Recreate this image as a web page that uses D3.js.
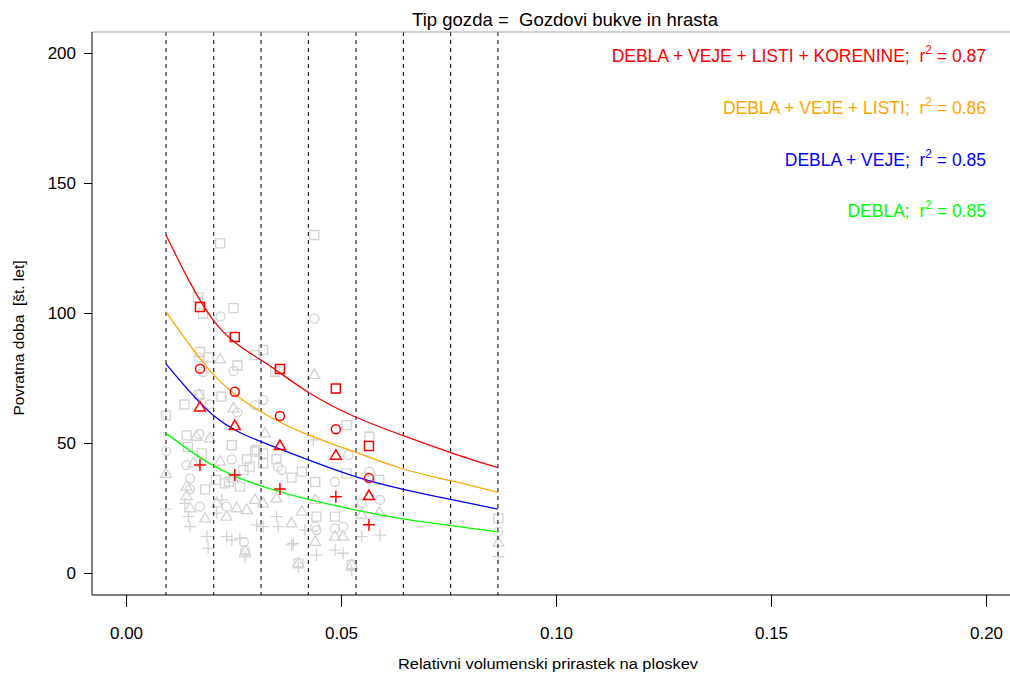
<!DOCTYPE html>
<html>
<head>
<meta charset="utf-8">
<script src="https://cdn.jsdelivr.net/npm/d3@7"></script>
<style>
  body { margin: 0; background: #fff; }
  text { font-family: 'Liberation Sans', Arial, sans-serif; white-space: pre; }
</style>
</head>
<body>
<svg id="chart" width="1010" height="673"></svg>
<script>
// class boundaries (dashed lines)
const breaks = [0.0093, 0.0204, 0.0314, 0.0424, 0.0535, 0.0645, 0.0755, 0.0865]

// fitted curves, read at the class boundaries
const fitTotal = [130.0, 97.0, 81.9, 69.5, 59.9, 52.8, 46.3, 40.5]
const fitLeaves = [100.5, 76.2, 62.0, 53.1, 46.4, 40.0, 35.5, 31.0]
const fitBranches = [80.4, 60.5, 50.5, 43.5, 37.0, 32.2, 28.3, 24.6]
const fitStems = [53.7, 41.2, 33.5, 28.3, 24.2, 20.8, 18.2, 15.8]

// class means (red symbols)
const meanX = [0.0172, 0.0253, 0.0358, 0.0488, 0.0565]
const meanTotal = [102.3, 90.8, 78.5, 71.0, 48.8]
const meanLeaves = [78.6, 69.7, 60.4, 55.3, 36.5]
const meanBranches = [63.7, 56.5, 48.8, 45.1, 29.6]
const meanStems = [41.5, 37.7, 32.3, 29.3, 18.6]

// individual plots (grey symbols), [x, years]
const plotsTotal = [
  [0.0219, 126.8], [0.0438, 130.0], [0.0168, 106.0], [0.0179, 99.8], [0.0250, 101.9],
  [0.0319, 85.8], [0.0300, 83.8], [0.0172, 85.0], [0.0192, 82.9], [0.0259, 79.8],
  [0.0347, 77.4], [0.0222, 67.8], [0.0136, 64.8], [0.0170, 68.5], [0.0093, 60.6],
  [0.0141, 52.9], [0.0144, 48.5], [0.0176, 46.0], [0.0246, 49.2], [0.0281, 43.7],
  [0.0273, 39.6], [0.0240, 35.1], [0.0209, 35.8], [0.0184, 32.2], [0.0288, 40.9],
  [0.0319, 46.0], [0.0300, 46.7], [0.0350, 43.8], [0.0409, 39.0], [0.0440, 35.0],
  [0.0385, 36.7], [0.0230, 34.5], [0.0265, 33.2], [0.0443, 21.7], [0.0401, 3.7],
  [0.0513, 56.9], [0.0486, 21.7], [0.0513, 38.3], [0.0319, 42.2], [0.0304, 47.3],
  [0.0525, 3.1], [0.0566, 52.4], [0.0589, 35.8], [0.0866, 21.0]
]
const plotsLeaves = [
  [0.0220, 98.7], [0.0438, 97.8], [0.0169, 82.9], [0.0179, 77.3], [0.0250, 77.7],
  [0.0319, 66.5], [0.0194, 64.9], [0.0259, 61.7], [0.0093, 46.9], [0.0170, 53.5],
  [0.0141, 41.5], [0.0246, 43.7], [0.0149, 32.3], [0.0172, 25.5], [0.0277, 8.8],
  [0.0300, 64.6], [0.0362, 39.6], [0.0353, 40.9], [0.0149, 36.4], [0.0234, 25.5],
  [0.0274, 12.0], [0.0443, 16.5], [0.0517, 45.4], [0.0486, 35.1], [0.0440, 17.8],
  [0.0486, 17.2], [0.0505, 17.8], [0.0566, 39.0], [0.0591, 28.1], [0.0548, 26.8],
  [0.0866, 15.9]
]
const plotsBranches = [
  [0.0219, 82.2], [0.0438, 76.2], [0.0170, 68.5], [0.0250, 63.3], [0.0093, 38.1],
  [0.0164, 52.4], [0.0195, 51.8], [0.0157, 42.2], [0.0219, 42.8], [0.0141, 29.6],
  [0.0149, 24.9], [0.0184, 21.0], [0.0234, 21.7], [0.0257, 24.9], [0.0277, 8.2],
  [0.0141, 33.2], [0.0211, 26.8], [0.0248, 36.4], [0.0281, 24.2], [0.0300, 28.1],
  [0.0319, 26.8], [0.0385, 19.1], [0.0409, 23.6], [0.0401, 3.7], [0.0323, 53.7],
  [0.0440, 28.1], [0.0440, 12.0], [0.0486, 14.0], [0.0505, 14.0], [0.0548, 22.3],
  [0.0350, 28.7], [0.0525, 3.1], [0.0589, 23.2], [0.0866, 11.7]
]
const plotsStems = [
  [0.0093, 24.6], [0.0145, 21.7], [0.0149, 17.8], [0.0188, 14.0], [0.0191, 9.5],
  [0.0223, 28.1], [0.0234, 14.0], [0.0265, 13.3], [0.0277, 6.2], [0.0304, 18.5],
  [0.0137, 26.8], [0.0211, 23.0], [0.0246, 12.7], [0.0319, 17.8], [0.0350, 21.7],
  [0.0354, 17.8], [0.0389, 11.4], [0.0416, 16.5], [0.0443, 6.9], [0.0436, 51.2],
  [0.0385, 10.8], [0.0486, 8.8], [0.0505, 7.6], [0.0548, 14.0], [0.0525, 1.0],
  [0.0401, 2.4], [0.0591, 14.6], [0.0866, 6.3]
]

const xTicks = [0, 0.05, 0.1, 0.15, 0.2]
const yTicks = [0, 50, 100, 150, 200]

const legendLabels = ['DEBLA + VEJE + LISTI + KORENINE;', 'DEBLA + VEJE + LISTI;', 'DEBLA + VEJE;', 'DEBLA;']
const legendR2 = ['0.87', '0.86', '0.85', '0.85']
const seriesColors = ['#ff0000', '#ffa500', '#0000ff', '#00ff00']

const box = { left: 92, right: 1010, top: 32, bottom: 595 }

const x = d3.scaleLinear().domain([0, 0.2]).range([126, 986])
const y = d3.scaleLinear().domain([0, 200]).range([573, 53])

const svg = d3.select('#chart')

// symbol paths in pixel space around (cx, cy)
const shapes = {
  square: (cx, cy) => `M${cx - 4.5},${cy - 4.5}h9v9h-9Z`,
  circle: (cx, cy) => `M${cx - 4.5},${cy}a4.5,4.5 0 1,0 9,0a4.5,4.5 0 1,0 -9,0`,
  triangle: (cx, cy) => `M${cx},${cy - 6}L${cx + 5.5},${cy + 3.5}L${cx - 5.5},${cy + 3.5}Z`,
  plus: (cx, cy) => `M${cx - 6},${cy}h12M${cx},${cy - 6}v12`
}

function drawPoints (data, shape, color, width, cls) {
  svg.append('g')
    .attr('class', cls)
    .selectAll('path')
    .data(data)
    .enter()
    .append('path')
      .attr('d', d => shapes[shape](x(d[0]), y(d[1])))
      .attr('fill', 'none')
      .attr('stroke', color)
      .attr('stroke-width', width)
}

// grey plots
const grey = '#d3d3d3'
drawPoints(plotsTotal, 'square', grey, 1.3, 'plots-total')
drawPoints(plotsLeaves, 'circle', grey, 1.3, 'plots-leaves')
drawPoints(plotsBranches, 'triangle', grey, 1.3, 'plots-branches')
drawPoints(plotsStems, 'plus', grey, 1.3, 'plots-stems')

// dashed class lines
svg.append('g')
  .selectAll('line')
  .data(breaks)
  .enter()
  .append('line')
    .attr('x1', d => x(d))
    .attr('x2', d => x(d))
    .attr('y1', box.top)
    .attr('y2', box.bottom)
    .attr('stroke', '#000')
    .attr('stroke-width', 1)
    .attr('stroke-dasharray', '4,4')

// fitted curves
const line = d3.line()
  .x((d, i) => x(breaks[i]))
  .y(d => y(d))
  .curve(d3.curveNatural)

const fits = [fitTotal, fitLeaves, fitBranches, fitStems]
svg.append('g')
  .selectAll('path')
  .data(fits)
  .enter()
  .append('path')
    .attr('d', line)
    .attr('fill', 'none')
    .attr('stroke', (d, i) => seriesColors[i])
    .attr('stroke-width', 1.3)

// class means
const zipMeans = vals => vals.map((v, i) => [meanX[i], v])
drawPoints(zipMeans(meanTotal), 'square', '#ff0000', 1.5, 'mean-total')
drawPoints(zipMeans(meanLeaves), 'circle', '#ff0000', 1.5, 'mean-leaves')
drawPoints(zipMeans(meanBranches), 'triangle', '#ff0000', 1.5, 'mean-branches')
drawPoints(zipMeans(meanStems), 'plus', '#ff0000', 1.5, 'mean-stems')

// frame
svg.append('line')
  .attr('x1', box.left).attr('x2', box.right)
  .attr('y1', box.top).attr('y2', box.top)
  .attr('stroke', '#a0a0a0')
svg.append('line')
  .attr('x1', box.left).attr('x2', box.left)
  .attr('y1', box.top).attr('y2', box.bottom)
  .attr('stroke', '#000')
svg.append('line')
  .attr('x1', box.left).attr('x2', box.right)
  .attr('y1', box.bottom).attr('y2', box.bottom)
  .attr('stroke', '#000')

// axes
const xAxis = d3.axisBottom(x)
  .tickValues(xTicks)
  .tickFormat(d3.format('.2f'))
  .tickSize(12)
  .tickPadding(20)
const yAxis = d3.axisLeft(y)
  .tickValues(yTicks)
  .tickFormat(d3.format('d'))
  .tickSize(8)
  .tickPadding(8)

const gx = svg.append('g')
  .attr('transform', `translate(0, ${box.bottom})`)
  .call(xAxis)
const gy = svg.append('g')
  .attr('transform', `translate(${box.left}, 0)`)
  .call(yAxis)

for (const g of [gx, gy]) {
  g.select('.domain').remove()
  g.selectAll('text')
    .attr('font-size', 17)
    .attr('font-family', "'Liberation Sans', Arial, sans-serif")
    .attr('fill', '#000')
  g.selectAll('line').attr('stroke', '#000')
}

// titles
svg.append('text')
  .attr('x', 565)
  .attr('y', 26)
  .attr('text-anchor', 'middle')
  .attr('font-size', 17.5)
  .attr('textLength', 306)
  .attr('lengthAdjust', 'spacingAndGlyphs')
  .text('Tip gozda =  Gozdovi bukve in hrasta')

svg.append('text')
  .attr('x', 548)
  .attr('y', 669)
  .attr('text-anchor', 'middle')
  .attr('font-size', 14)
  .attr('textLength', 300)
  .attr('lengthAdjust', 'spacingAndGlyphs')
  .text('Relativni volumenski prirastek na ploskev')

svg.append('text')
  .attr('transform', 'translate(24, 338) rotate(-90)')
  .attr('text-anchor', 'middle')
  .attr('font-size', 15.5)
  .text('Povratna doba  [št. let]')

// r2 legend
const legend = svg.append('g')
  .selectAll('text')
  .data(legendLabels)
  .enter()
  .append('text')
    .attr('x', 986)
    .attr('y', (d, i) => 62 + i * 51.8)
    .attr('text-anchor', 'end')
    .attr('font-size', 17.5)
    .attr('fill', (d, i) => seriesColors[i])

legend.append('tspan').text(d => d + '  r')
legend.append('tspan')
  .attr('dy', -8)
  .attr('font-size', 12)
  .text('2')
legend.append('tspan')
  .attr('dy', 8)
  .text((d, i) => ' = ' + legendR2[i])
</script>
</body>
</html>
